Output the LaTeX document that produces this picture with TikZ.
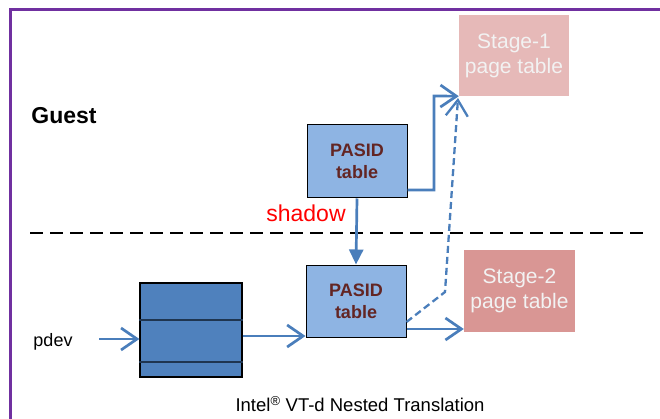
\documentclass[tikz,border=0pt]{standalone}
\usepackage{fontspec}
\setmainfont{Liberation Sans}
\usetikzlibrary{arrows.meta}

\definecolor{framepurple}{HTML}{7030A0}
\definecolor{linkblue}{HTML}{4A7EBB}
\definecolor{pasidfill}{HTML}{8EB4E3}
\definecolor{pasidtext}{HTML}{632523}
\definecolor{blockfill}{HTML}{4F81BD}
\definecolor{blockrule}{HTML}{1F3550}
\definecolor{stageone}{HTML}{E6B9B8}
\definecolor{stagetwo}{HTML}{D99694}

\tikzset{
  pasidbox/.style={draw=black, line width=1pt, fill=pasidfill, text=pasidtext,
    minimum width=100pt, minimum height=72pt, inner sep=0pt, align=center,
    font=\fontsize{18}{22}\selectfont\bfseries},
  stagebox/.style={fill=#1, text=white!95!black, minimum width=111pt,
    minimum height=82pt, inner sep=0pt, align=center,
    font=\fontsize{21}{25}\selectfont},
  link/.style={draw=linkblue, line width=2.7pt,
    -{Straight Barb[length=16pt,width=22pt]}},
  linkdash/.style={link, line width=2.3pt, dash pattern=on 7pt off 4pt},
  shadowlink/.style={draw=linkblue, line width=2.7pt,
    -{Triangle[length=15pt,width=14pt]}},
}

\begin{document}
\begin{tikzpicture}[x=1pt, y=-1pt]
  \useasboundingbox (0,0) rectangle (660,419);
  \clip (0,0) rectangle (660,419);

  % outer frame, running off the right and bottom edges
  \draw[framepurple, line width=2.5pt] (10.5,9.5) rectangle (700,470);

  % guest / host separator
  \coordinate (sepL) at (30,233);
  \coordinate (sepR) at (648,233);
  \draw[black, line width=1.8pt, dash pattern=on 13pt off 7pt] (sepL) -- (sepR);

  % labels
  \node[font=\fontsize{23}{26}\selectfont\bfseries] (guest) at (64,116) {Guest};
  \node[text=red, font=\fontsize{23}{26}\selectfont] (shadow) at (306,213) {shadow};
  \node[font=\fontsize{18}{20}\selectfont] (pdev) at (53,342) {pdev};
  \node[font=\fontsize{18.5}{20}\selectfont] (caption) at (360,404)
    {Intel\textsuperscript{\textregistered} VT-d Nested Translation};

  % page tables
  \node[stagebox=stageone, minimum width=110pt, minimum height=81pt] (stage1)
    at (514,55.5) {Stage-1\\page table};
  \node[stagebox=stagetwo] (stage2) at (519.5,291) {Stage-2\\page table};

  % PASID tables
  \node[pasidbox, minimum height=73pt] (pasid1) at (357,161.5) {PASID\\table};
  \node[pasidbox] (pasid2) at (356,301) {PASID\\table};

  % context entry block
  \node[draw=black, line width=1.2pt, fill=blockfill, minimum width=102pt,
    minimum height=94pt, inner sep=0pt] (block) at (191,330) {};
  \draw[blockrule, line width=1.5pt] (block.west |- 0,320) -- (block.east |- 0,320);
  \draw[blockrule, line width=1.5pt] (block.west |- 0,362) -- (block.east |- 0,362);

  % connectors
  \coordinate (pdevtail) at (99,339);
  \draw[link] (pdevtail) -- (block.west |- pdevtail);
  \draw[link] (block.east |- 0,336) -- (pasid2.west |- 0,336);
  \draw[shadowlink] (pasid1.south) -- (pasid2.north);

  \coordinate (upbend) at (434,190);
  \coordinate (uptop) at (434,96);
  \draw[link] (pasid1.east |- upbend) -- (upbend) -- (uptop) -- (stage1.south west);

  \coordinate (dashbend) at (445,292);
  \coordinate (dashtip) at (458,98);
  \draw[linkdash] (pasid2.east |- 0,322) -- (dashbend) -- (dashtip);

  \draw[link] (pasid2.east |- 0,329) -- (stage2.west |- 0,329);
\end{tikzpicture}
\end{document}
